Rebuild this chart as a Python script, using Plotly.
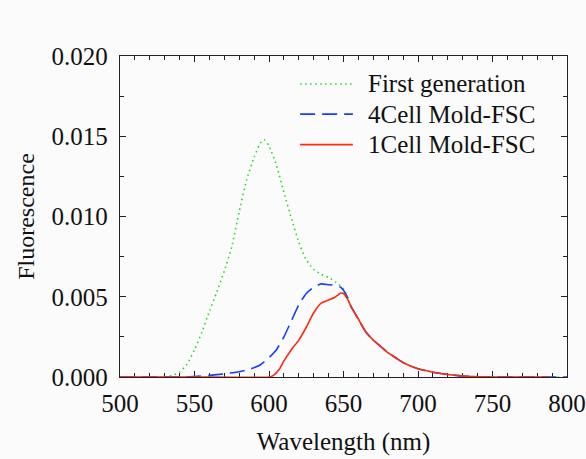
import plotly.graph_objects as go

# ---- data ----
tail_wl = [655, 660, 665, 670, 675, 680, 685, 690, 695, 700, 705, 710, 720, 730, 740, 750, 760, 780]
tail_val = [0.0044, 0.0036, 0.0028, 0.0023, 0.0019, 0.0015, 0.0012, 0.0009, 0.00068, 0.00052,
            0.0004, 0.0003, 0.00016, 0.00006, 0.00002, 0.0, 0.0, 0.0]

first_wl = [500, 520, 530, 535, 540, 545, 550, 555, 560, 565, 570, 575, 580, 585, 590, 595, 597,
            600, 605, 610, 615, 620, 625, 630, 635, 640, 645, 650, 653]
first_val = [0.0, 0.0, 0.0, 0.0001, 0.0003, 0.0008, 0.0017, 0.0028, 0.0041, 0.0053, 0.0066, 0.0081,
             0.0103, 0.0123, 0.0137, 0.0147, 0.01477, 0.0144, 0.0132, 0.0115, 0.0099, 0.0084, 0.0073,
             0.0067, 0.0064, 0.0062, 0.0059, 0.0055, 0.0049]

cell4_wl = [500, 545, 550, 560, 570, 580, 587, 594, 600, 605, 610, 615, 620, 625, 630, 635, 640,
            645, 648, 650, 653]
cell4_val = [0.0, 0.0, 0.00003, 0.0001, 0.0002, 0.00033, 0.00048, 0.00075, 0.0012, 0.0017, 0.0025,
             0.0035, 0.0045, 0.0052, 0.0056, 0.0058, 0.00575, 0.0057, 0.0056, 0.0054, 0.0049]

cell1_wl = [500, 550, 600, 603, 607, 610, 615, 620, 625, 630, 635, 640, 644, 648, 650, 653]
cell1_val = [0.0, 0.0, 0.0, 0.0001, 0.0005, 0.001, 0.0017, 0.0023, 0.0031, 0.0040, 0.0046, 0.0048,
             0.00495, 0.00522, 0.0052, 0.0048]

names = ["First generation", "4Cell Mold-FSC", "1Cell Mold-FSC"]
colors = ["#22dd22", "#1a3cff", "#ff2a10"]
dashes = ["1.5px,3.5px", "15px,7px", "solid"]
widths = [1.6, 1.6, 1.6]

x_ticks = [500, 550, 600, 650, 700, 750, 800]
y_ticks = [0.000, 0.005, 0.010, 0.015, 0.020]
y_ticklabels = ["0.000", "0.005", "0.010", "0.015", "0.020"]

FONT = "Times New Roman, Liberation Serif, serif"

series = [
    (first_wl + tail_wl + [790, 800], first_val + tail_val + [0.0, 0.0]),
    (cell4_wl + tail_wl + [790, 800], cell4_val + tail_val + [0.0, 0.0]),
    (cell1_wl + tail_wl + [788], cell1_val + tail_val + [0.0]),
]

fig = go.Figure()
for (xs, ys), n, c, d, w in zip(series, names, colors, dashes, widths):
    fig.add_trace(go.Scatter(x=xs, y=ys, mode="lines", name=n, cliponaxis=False,
                             line=dict(color=c, dash=d, width=w, shape="spline", smoothing=0.5),
                             showlegend=False))

# manual legend (long line samples like the reference)
leg_y = [0.913, 0.819, 0.724]
for n, c, d, w, ly in zip(names, colors, dashes, widths, leg_y):
    fig.add_shape(type="line", xref="paper", yref="paper", x0=0.403, x1=0.521, y0=ly, y1=ly,
                  line=dict(color=c, dash=d, width=w))
    fig.add_annotation(xref="paper", yref="paper", x=0.551, y=ly, text=n, showarrow=False,
                       xanchor="left", yanchor="middle", font=dict(family=FONT, size=25, color="#111"))

axis_common = dict(
    showline=True, linecolor="#222", linewidth=1.3, mirror="ticks",
    ticks="inside", ticklen=6, tickwidth=1.2, tickcolor="#222",
    showgrid=False, zeroline=False, layer="below traces", automargin=False,
    tickfont=dict(family=FONT, size=25, color="#111"),
)

fig.update_xaxes(range=[500, 800], tickvals=x_ticks, ticklabelstandoff=4,
                 minor=dict(ticks="inside", ticklen=4, tickwidth=1, tickcolor="#222", dtick=10, tick0=500),
                 title=dict(text="Wavelength (nm)", font=dict(family=FONT, size=25, color="#111"), standoff=16),
                 **axis_common)
fig.update_yaxes(range=[0, 0.02], tickvals=y_ticks, ticktext=y_ticklabels, ticklabelstandoff=6,
                 minor=dict(ticks="inside", ticklen=4, tickwidth=1, tickcolor="#222", dtick=0.0025, tick0=0),
                 title=dict(text="Fluorescence", font=dict(family=FONT, size=24, color="#111"), standoff=10),
                 **axis_common)

fig.update_layout(
    width=586, height=459,
    margin=dict(l=120, r=19, t=56, b=82),
    paper_bgcolor="#fbfbfb", plot_bgcolor="#fbfbfb",
    showlegend=False,
)

fig.write_html("out.html")
